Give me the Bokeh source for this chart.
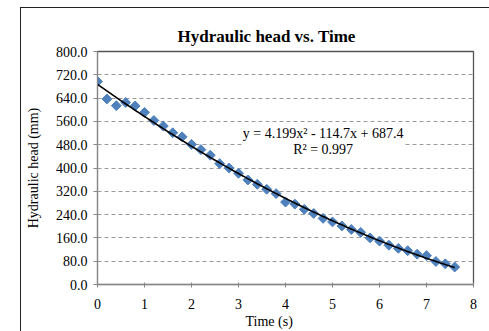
import numpy as np
from bokeh.plotting import figure
from bokeh.models import Label, Title, FixedTicker, Range1d, CustomJSTickFormatter
from bokeh.embed import file_html
from bokeh.resources import INLINE

time_s = [0.0, 0.2, 0.4, 0.6, 0.8, 1.0, 1.2, 1.4, 1.6, 1.8,
          2.0, 2.2, 2.4, 2.6, 2.8, 3.0, 3.2, 3.4, 3.6, 3.8,
          4.0, 4.2, 4.4, 4.6, 4.8, 5.0, 5.2, 5.4, 5.6, 5.8,
          6.0, 6.2, 6.4, 6.6, 6.8, 7.0, 7.2, 7.4, 7.6]
head_mm = [697, 637, 614, 625, 613, 591, 563, 544, 521, 507,
           481, 463, 444, 415, 400, 382, 359, 344, 327, 312,
           283, 276, 258, 244, 227, 215, 201, 189, 179, 160,
           149, 135, 124, 116, 104, 99, 79, 71, 60]
trend_coef = [4.199, -114.7, 687.4]
x_ticks = [0, 1, 2, 3, 4, 5, 6, 7, 8]
y_ticks = [0, 80, 160, 240, 320, 400, 480, 560, 640, 720, 800]

FONT = "Liberation Serif"

p = figure(width=469, height=324, output_backend="svg", toolbar_location=None,
           x_range=Range1d(0, 8), y_range=Range1d(0, 800),
           min_border_left=76, min_border_right=17, min_border_top=43,
           min_border_bottom=48)
p.margin = (7, 0, 0, 20)
p.styles = {"border-left": "1px solid #222222", "border-top": "1px solid #222222"}

p.background_fill_color = "white"
p.border_fill_color = "white"
p.outline_line_color = "#555555"
p.outline_line_width = 1.3

# grid
p.xgrid.visible = False
p.ygrid.ticker = FixedTicker(ticks=y_ticks)
p.ygrid.grid_line_color = "#9a9a9a"
p.ygrid.grid_line_dash = "4 3"
p.ygrid.grid_line_width = 1

# axes
p.xaxis.ticker = FixedTicker(ticks=x_ticks)
p.yaxis.ticker = FixedTicker(ticks=y_ticks)
p.yaxis.formatter = CustomJSTickFormatter(code="return tick.toFixed(1);")
for ax in (p.xaxis[0], p.yaxis[0]):
    ax.axis_line_color = "#868686"
    ax.major_tick_line_color = "#868686"
    ax.minor_tick_line_color = None
    ax.major_label_text_font = FONT
    ax.major_label_text_font_size = "14px"
    ax.major_label_text_color = "#000000"
    ax.axis_label_text_font = FONT
    ax.axis_label_text_font_style = "normal"
    ax.axis_label_text_font_size = "14px"
    ax.axis_label_text_color = "#000000"
p.xaxis.major_tick_in = 2
p.xaxis.major_tick_out = 3
p.yaxis.major_tick_in = 0
p.yaxis.major_tick_out = 4
p.xaxis.major_label_standoff = 11
p.yaxis.major_label_standoff = 6
p.yaxis.axis_label = "Hydraulic head (mm)"
p.yaxis.axis_label_standoff = 12

# title
p.title = Title(text="Hydraulic head vs. Time", text_font=FONT, text_font_size="17px",
                text_font_style="bold", align="left", offset=80, standoff=10,
                vertical_align="middle", text_color="#000000")

# x axis label as a below title
p.add_layout(Title(text="Time (s)", text_font=FONT, text_font_size="14px",
                   text_font_style="normal", align="left", offset=148, standoff=0,
                   text_color="#000000"), "below")

# trendline
t_fine = np.linspace(min(time_s), max(time_s), 200)
y_fine = np.polyval(trend_coef, t_fine)

p.scatter(time_s, head_mm, marker="square", angle=np.pi / 4, size=7,
          fill_color="#4F81BD", line_color="#4F81BD")
p.line(t_fine, y_fine, line_color="#000000", line_width=1.6)

eq = Label(x=4.8, y=492, text="y = 4.199x\u00b2 - 114.7x + 687.4\nR\u00b2 = 0.997",
           text_align="center", text_baseline="middle", text_font=FONT,
           text_font_size="14px", text_color="#000000",
           background_fill_color="white", text_line_height=1.05)
p.add_layout(eq)

open("out.html", "w").write(file_html(p, INLINE))
